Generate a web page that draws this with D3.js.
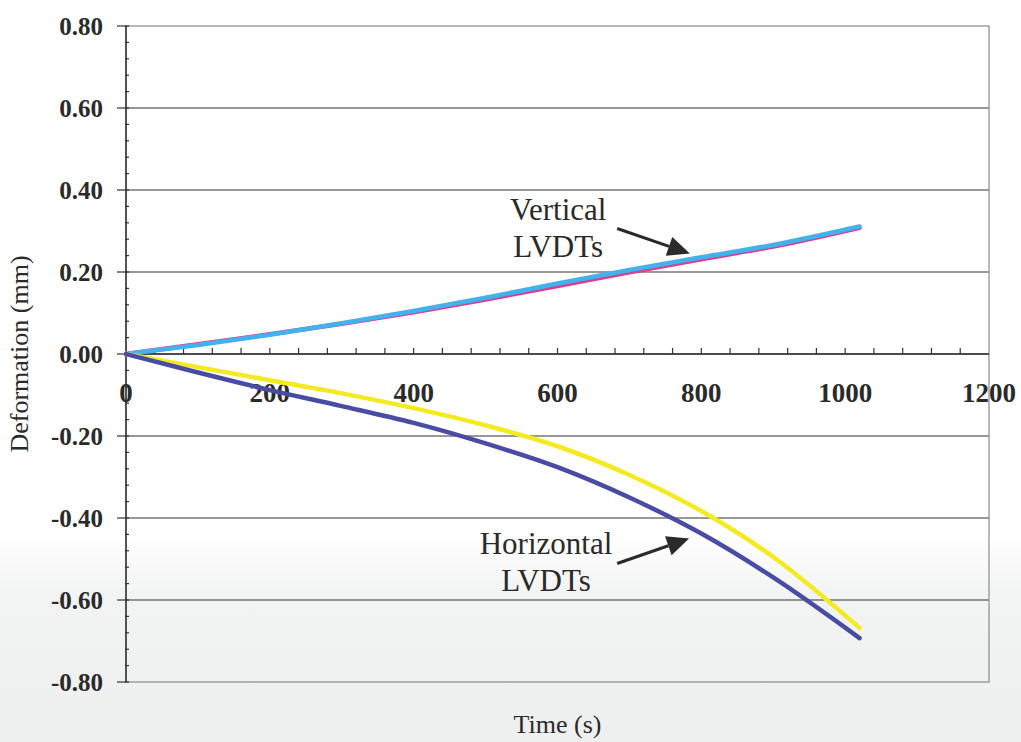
<!DOCTYPE html>
<html>
<head>
<meta charset="utf-8">
<script src="https://cdn.jsdelivr.net/npm/d3@7"></script>
<style>
  html, body { margin: 0; padding: 0; background: #fff; }
  svg { display: block; }
</style>
</head>
<body>
<svg id="chart"></svg>
<script>
const width = 1021;
const height = 742;
const serif = "'Liberation Serif', Tinos, 'Times New Roman', Times, 'DejaVu Serif', serif";

// data (time in s, deformation in mm)
const time = [0, 100, 200, 300, 400, 500, 600, 700, 800, 900, 1020];
const vertPink = [0, 0.024, 0.048, 0.074, 0.102, 0.133, 0.166, 0.199, 0.231, 0.262, 0.308];
const vertCyan = [0, 0.022, 0.047, 0.075, 0.105, 0.137, 0.172, 0.205, 0.236, 0.266, 0.311];
const horizYellow = [0, -0.032, -0.064, -0.096, -0.132, -0.174, -0.225, -0.295, -0.383, -0.495, -0.668];
const horizBlue = [0, -0.045, -0.088, -0.127, -0.168, -0.218, -0.276, -0.350, -0.438, -0.545, -0.693];

const xTicks = [0, 200, 400, 600, 800, 1000, 1200];
const yTicks = [-0.8, -0.6, -0.4, -0.2, 0, 0.2, 0.4, 0.6, 0.8];

const series = [
  { name: "pink", values: vertPink, color: "#e03c8c" },
  { name: "cyan", values: vertCyan, color: "#42b2ec" },
  { name: "yellow", values: horizYellow, color: "#f4ea22" },
  { name: "blue", values: horizBlue, color: "#4a4ca4" }
];

const notes = [
  { lines: ["Vertical", "LVDTs"], t: 601, v: 0.328, from: [683, 0.306], to: [784, 0.245] },
  { lines: ["Horizontal", "LVDTs"], t: 584, v: -0.487, from: [683, -0.511], to: [783, -0.450] }
];

const x = d3.scaleLinear().domain([0, 1200]).range([126, 989]);
const y = d3.scaleLinear().domain([-0.8, 0.8]).range([682, 26]);

const svg = d3.select("#chart")
    .attr("width", width)
    .attr("height", height)
    .attr("viewBox", [0, 0, width, height])
    .attr("font-family", serif)
    .style("font-family", serif);

// faint scan tint near the bottom
const grad = svg.append("defs").append("linearGradient")
    .attr("id", "bg").attr("x1", 0).attr("y1", 0).attr("x2", 0).attr("y2", 1);
grad.append("stop").attr("offset", "0.72").attr("stop-color", "#ffffff");
grad.append("stop").attr("offset", "0.8").attr("stop-color", "#f2f4f3");
grad.append("stop").attr("offset", "1").attr("stop-color", "#eef0ef");
svg.append("rect").attr("width", width).attr("height", height).attr("fill", "url(#bg)");

// gridlines
svg.append("g")
    .selectAll("line")
    .data(yTicks.filter(d => d !== 0.8 && d !== -0.8))
    .enter().append("line")
        .attr("x1", x(0)).attr("x2", x(1200))
        .attr("y1", d => y(d)).attr("y2", d => y(d))
        .attr("stroke", "#333")
        .attr("stroke-width", 1.2);

// plot frame
svg.append("rect")
    .attr("x", x(0)).attr("y", y(0.8))
    .attr("width", x(1200) - x(0)).attr("height", y(-0.8) - y(0.8))
    .attr("fill", "none")
    .attr("stroke", "#8a8a8a")
    .attr("stroke-width", 1.2);

// y axis
const yAxis = svg.append("g");
yAxis.append("line")
    .attr("x1", x(0)).attr("x2", x(0))
    .attr("y1", y(0.8)).attr("y2", y(-0.8))
    .attr("stroke", "#333").attr("stroke-width", 1.5);
yAxis.selectAll(".minor")
    .data(d3.range(-0.8, 0.801, 0.04))
    .enter().append("line")
        .attr("x1", x(0) - 1).attr("x2", x(0) + 3)
        .attr("y1", d => y(d)).attr("y2", d => y(d))
        .attr("stroke", "#333").attr("stroke-width", 1.2);
yAxis.selectAll(".major")
    .data(yTicks)
    .enter().append("line")
        .attr("x1", x(0) - 9).attr("x2", x(0))
        .attr("y1", d => y(d)).attr("y2", d => y(d))
        .attr("stroke", "#333").attr("stroke-width", 1.2);
yAxis.selectAll("text")
    .data(yTicks)
    .enter().append("text")
        .attr("x", 103)
        .attr("y", d => y(d))
        .attr("dy", "0.35em")
        .attr("text-anchor", "end")
        .attr("font-size", 25)
        .attr("font-weight", "bold")
        .attr("fill", "#2a2a2a")
        .text(d => d3.format(".2f")(d).replace("\u2212", "-"));

// x axis along zero
const xAxis = svg.append("g");
xAxis.append("line")
    .attr("x1", x(0)).attr("x2", x(1200))
    .attr("y1", y(0)).attr("y2", y(0))
    .attr("stroke", "#333").attr("stroke-width", 1.5);
xAxis.selectAll(".tick")
    .data(d3.range(40, 1200, 40))
    .enter().append("line")
        .attr("x1", d => x(d)).attr("x2", d => x(d))
        .attr("y1", y(0) - 6).attr("y2", y(0))
        .attr("stroke", "#333").attr("stroke-width", 1.2);
xAxis.selectAll("text")
    .data(xTicks)
    .enter().append("text")
        .attr("x", d => x(d))
        .attr("y", 402)
        .attr("text-anchor", "middle")
        .attr("font-size", 27)
        .attr("font-weight", "bold")
        .attr("fill", "#2a2a2a")
        .text(d => d);

// series
const line = d3.line()
    .x((d, i) => x(time[i]))
    .y(d => y(d))
    .curve(d3.curveMonotoneX);

svg.append("g")
    .attr("fill", "none")
    .selectAll("path")
    .data(series)
    .enter().append("path")
        .attr("d", d => line(d.values))
        .attr("stroke", d => d.color)
        .attr("stroke-width", 4.5)
        .attr("stroke-linecap", "round")
        .attr("stroke-linejoin", "round");

// annotations with arrows
const note = svg.append("g").selectAll("g")
    .data(notes)
    .enter().append("g");

note.each(function (d) {
    const g = d3.select(this);
    d.lines.forEach((s, i) => {
        g.append("text")
            .attr("x", x(d.t))
            .attr("y", y(d.v) + i * 37)
            .attr("text-anchor", "middle")
            .attr("font-size", 31)
            .attr("fill", "#2a2a2a")
            .text(s);
    });
    const x0 = x(d.from[0]), y0 = y(d.from[1]);
    const x1 = x(d.to[0]), y1 = y(d.to[1]);
    const ang = Math.atan2(y1 - y0, x1 - x0);
    const len = 22, half = 10;
    const bx = x1 - len * Math.cos(ang), by = y1 - len * Math.sin(ang);
    g.append("line")
        .attr("x1", x0).attr("y1", y0)
        .attr("x2", bx).attr("y2", by)
        .attr("stroke", "#2a2a2a").attr("stroke-width", 3);
    g.append("polygon")
        .attr("points", [
            [x1, y1],
            [bx + half * Math.sin(ang), by - half * Math.cos(ang)],
            [bx - half * Math.sin(ang), by + half * Math.cos(ang)]
        ].map(p => p.join(",")).join(" "))
        .attr("fill", "#2a2a2a");
});

// axis titles
svg.append("text")
    .attr("transform", `translate(28,${y(0)}) rotate(-90)`)
    .attr("text-anchor", "middle")
    .attr("font-size", 26)
    .attr("fill", "#2a2a2a")
    .text("Deformation (mm)");

svg.append("text")
    .attr("x", (x(0) + x(1200)) / 2)
    .attr("y", 733)
    .attr("text-anchor", "middle")
    .attr("font-size", 26)
    .attr("fill", "#2a2a2a")
    .text("Time (s)");
</script>
</body>
</html>
